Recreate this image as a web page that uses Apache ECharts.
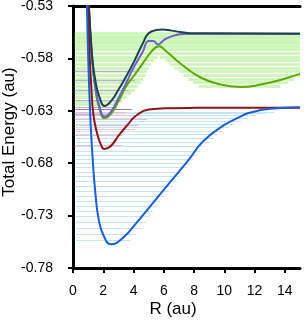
<!DOCTYPE html>
<html><head><meta charset="utf-8">
<script src="https://cdn.jsdelivr.net/npm/echarts@6/dist/echarts.min.js"></script>
<style>html,body{margin:0;padding:0;background:#fff}#c{width:306px;height:320px}</style>
</head><body><div id="c"></div>
<script>
// tick labels
const xTicks = [0, 2, 4, 6, 8, 10, 12, 14];
const yTicks = [-0.78, -0.73, -0.68, -0.63, -0.58, -0.53];

// potential curves (R in au, total energy in au)
const blueR = [0.80, 0.92, 1.05, 1.20, 1.32, 1.45, 1.70, 2.05, 2.50, 3.27, 4.36, 5.45, 6.54, 7.63, 8.60, 10.0, 11.0, 11.55, 13.0, 15.0];
const blueE = [-0.46, -0.53, -0.60, -0.652, -0.680, -0.704, -0.734, -0.750, -0.7574, -0.7516, -0.734, -0.715, -0.696, -0.677, -0.659, -0.6435, -0.636, -0.6324, -0.628, -0.6265];

const redR = [0.85, 0.98, 1.10, 1.20, 1.35, 1.60, 1.85, 2.07, 2.50, 3.05, 3.60, 4.14, 5.00, 6.50, 8.00, 15.0];
const redE = [-0.48, -0.53, -0.578, -0.605, -0.634, -0.652, -0.6625, -0.6665, -0.6635, -0.653, -0.6435, -0.635, -0.6288, -0.6275, -0.6272, -0.627];

const greenR = [0.90, 1.05, 1.20, 1.33, 1.50, 1.75, 2.09, 2.50, 3.00, 3.50, 4.00, 4.60, 5.30, 5.69, 6.10, 7.20, 8.50, 9.80, 11.1, 12.4, 13.75, 15.0];
const greenE = [-0.47, -0.53, -0.570, -0.592, -0.611, -0.628, -0.637, -0.633, -0.621, -0.607, -0.597, -0.585, -0.5715, -0.5685, -0.5725, -0.586, -0.5987, -0.605, -0.6073, -0.605, -0.6003, -0.5948];

const purpleR = [0.90, 1.05, 1.20, 1.33, 1.50, 1.75, 2.09, 2.50, 3.00, 3.50, 4.00, 4.60, 5.00, 5.30, 5.62, 6.00, 6.60, 7.30, 8.50, 15.0];
const purpleE = [-0.47, -0.53, -0.568, -0.590, -0.609, -0.626, -0.6356, -0.631, -0.618, -0.604, -0.589, -0.574, -0.5635, -0.5635, -0.5668, -0.5625, -0.5585, -0.5568, -0.5565, -0.5565];

const tealR = [0.90, 1.05, 1.20, 1.30, 1.50, 1.75, 2.09, 2.50, 3.00, 3.50, 4.00, 4.60, 5.00, 5.50, 5.90, 6.50, 7.20, 8.00, 15.0];
const tealE = [-0.47, -0.53, -0.565, -0.583, -0.603, -0.617, -0.6254, -0.621, -0.610, -0.5975, -0.584, -0.566, -0.556, -0.553, -0.5525, -0.5535, -0.5550, -0.556, -0.5565];

// vibrational levels (energy, right end R)
const blueLvE = [-0.7533, -0.7478, -0.7421, -0.7364, -0.7310, -0.7262, -0.7208, -0.7160, -0.7113, -0.7065, -0.7024, -0.6976, -0.6929, -0.6884, -0.6843, -0.6801, -0.6760, -0.6721, -0.6683, -0.6642, -0.6604, -0.6564, -0.6526, -0.6493, -0.6459, -0.6426, -0.6397, -0.6369, -0.6345, -0.6326, -0.6311];
const blueLvEnd = [3.81, 4.14, 4.53, 4.84, 5.05, 5.27, 5.56, 5.77, 6.10, 6.32, 6.54, 6.80, 7.01, 7.24, 7.52, 7.73, 7.95, 8.17, 8.39, 8.61, 9.04, 9.3, 9.6, 9.9, 10.3, 10.7, 11.1, 11.6, 12.1, 12.7, 13.3];

const pinkLvE = [-0.6626, -0.6537, -0.6480, -0.6435, -0.6385, -0.6345, -0.6312];
const pinkLvEnd = [3.27, 3.27, 4.10, 4.35, 4.90, 4.60, 3.50];
const mauveLvE = [-0.6288];
const mauveLvEnd = [3.9];

const lavLvE = [-0.5923, -0.6013, -0.6100, -0.6197, -0.6270, -0.6335];
const lavLvEnd = [4.36, 4.10, 3.70, 3.20, 2.90, 2.60];

const greenTopE = [-0.5562, -0.5585, -0.5610, -0.5635, -0.5660, -0.5685];
const greenTopEnd = [15, 15, 15, 15, 15, 15];

const greenInE = [-0.5715, -0.5750, -0.5785, -0.5820, -0.5855, -0.5890, -0.5925, -0.5960, -0.5995, -0.6030, -0.6065, -0.6100, -0.6135, -0.6170, -0.6205, -0.6240];
const greenInEnd = [5.8, 5.75, 5.6, 5.35, 5.15, 5.0, 4.9, 4.8, 4.65, 4.5, 4.3, 4.1, 3.85, 3.55, 3.25, 2.95];

const greenOutE = [-0.5715, -0.5750, -0.5785, -0.5820, -0.5855, -0.5890, -0.5925, -0.5960, -0.5995, -0.6030, -0.6062];
const greenOutStart = [5.8, 5.75, 5.75, 6.1, 6.4, 6.7, 7.0, 7.3, 7.6, 7.95, 8.3];
const greenOutEnd = [15, 15, 15, 15, 15, 15, 15, 15, 14.6, 14.2, 13.7];

const levelStart = 0.12;

function zip(xs, ys) { return xs.map((x, i) => [x, ys[i]]); }
function levels(es, ends, starts) {
  return es.map((e, i) => ({ coords: [[starts ? starts[i] : levelStart, e], [ends[i], e]] }));
}
function lvSeries(data, color, width) {
  return { type: 'lines', coordinateSystem: 'cartesian2d', data: data, silent: true,
    lineStyle: { color: color, width: width, opacity: 1 }, z: 1 };
}
function curve(xs, ys, color) {
  return { type: 'line', data: zip(xs, ys), showSymbol: false, smooth: 0.5,
    lineStyle: { color: color, width: 2 }, silent: true, z: 5 };
}

const font = 'Liberation Sans, Arial, sans-serif';
const chart = echarts.init(document.getElementById('c'), null, { renderer: 'canvas' });
chart.setOption({
  animation: false,
  backgroundColor: '#fff',
  grid: { left: 73, right: 6, top: 6, bottom: 52, containLabel: false, outerBoundsMode: 'none' },
  xAxis: [{
    type: 'value', min: 0, max: 15, position: 'bottom',
    name: 'R (au)', nameLocation: 'middle', nameGap: 33, nameMoveOverlap: false,
    nameTextStyle: { fontFamily: font, fontSize: 17, color: '#000', padding: [0, 27, 0, 0] },
    axisLine: { lineStyle: { color: '#000', width: 3 } },
    axisTick: { show: true, inside: false, length: 5, lineStyle: { color: '#000', width: 2 }, customValues: xTicks },
    axisLabel: { fontFamily: font, fontSize: 14, color: '#000', margin: 16, customValues: xTicks },
    splitLine: { show: false }
  }, {
    type: 'value', min: 0, max: 15, position: 'top',
    axisLine: { lineStyle: { color: '#000', width: 3 } },
    axisTick: { show: false }, axisLabel: { show: false }, splitLine: { show: false }
  }],
  yAxis: [{
    type: 'value', min: -0.78, max: -0.53, position: 'left',
    name: 'Total Energy (au)', nameLocation: 'middle', nameGap: 55, nameMoveOverlap: false,
    nameTextStyle: { fontFamily: font, fontSize: 17, color: '#000', padding: [0, 0, 0, 10] },
    axisLine: { lineStyle: { color: '#000', width: 3 } },
    axisTick: { show: true, inside: false, length: 5, lineStyle: { color: '#000', width: 2 }, customValues: yTicks },
    axisLabel: { fontFamily: font, fontSize: 14, color: '#000', margin: 20, customValues: yTicks,
      formatter: v => v.toFixed(2) },
    splitLine: { show: false }
  }, {
    type: 'value', min: -0.78, max: -0.53, position: 'right',
    axisLine: { show: true, lineStyle: { color: '#000', width: 2 } },
    axisTick: { show: false }, axisLabel: { show: false }, splitLine: { show: false }
  }],
  series: [
    lvSeries(levels(blueLvE, blueLvEnd), '#c6e4f7', 1),
    lvSeries(levels(greenTopE, greenTopEnd), '#c9f4b2', 2.5),
    lvSeries(levels(greenInE, greenInEnd), '#c9f4b2', 2.5),
    lvSeries(levels(greenOutE, greenOutEnd, greenOutStart), '#c9f4b2', 2.5),
    lvSeries(levels(pinkLvE, pinkLvEnd), '#efbcc8', 1),
    lvSeries(levels(mauveLvE, mauveLvEnd), '#a87898', 1),
    lvSeries(levels(lavLvE, lavLvEnd), '#b4b0e4', 1),
    curve(greenR, greenE, '#5fa800'),
    curve(purpleR, purpleE, '#6a62c8'),
    curve(tealR, tealE, '#1c4450'),
    curve(redR, redE, '#8c1418'),
    curve(blueR, blueE, '#1b5fd0')
  ]
});
</script></body></html>
